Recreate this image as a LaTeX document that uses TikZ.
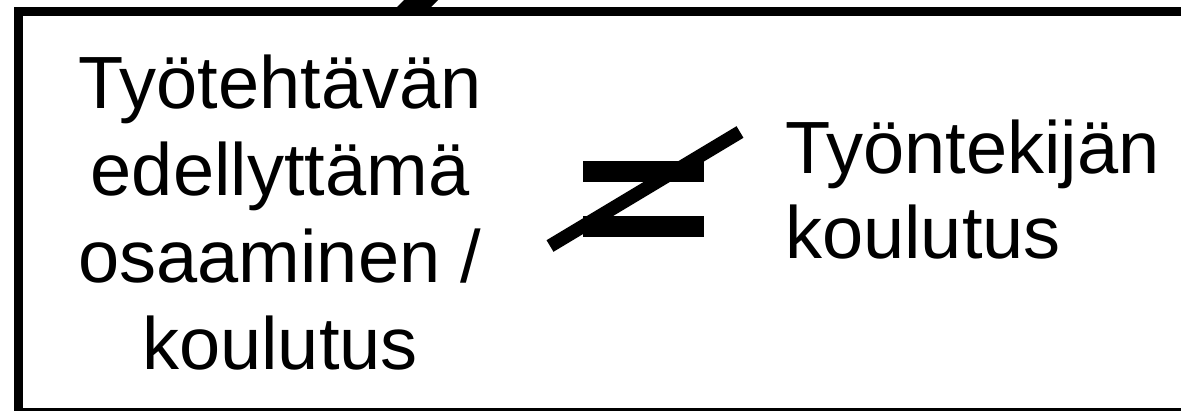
\documentclass[tikz,border=0pt]{standalone}
\usepackage{fontspec}
\setmainfont{Liberation Sans}
\begin{document}
\begin{tikzpicture}[x=1pt,y=-1pt,
  txt/.style={inner sep=0pt,anchor=base,font=\fontsize{74}{85}\selectfont},
  txtl/.style={txt,anchor=base west},
  boxline/.style={draw=black,line width=8.5pt,line join=miter},
  bar/.style={fill=black,draw=none}]
\useasboundingbox (0,0) rectangle (1181,410);
\clip (0,0) rectangle (1181,410);
\fill[white] (0,0) rectangle (1181,410);
% frame (right side lies outside the picture, bottom side mostly cut off)
\draw[boxline] (1190,412) -- (18.25,412) -- (18.25,11.5) -- (1190,11.5);
% fragment of a slash above the frame
\fill[black] (395,9) -- (429,9) -- (441,-3) -- (407,-3) -- cycle;
% left text
\node[txt] (l1) at (280,108) {Työtehtävän};
\node[txt] (l2) at (280,195) {edellyttämä};
\node[txt] (l3) at (280,282) {osaaminen /};
\node[txt] (l4) at (280,369) {koulutus};
% not-equal sign
\fill[bar] (583,161) rectangle (704,182);
\fill[bar] (583,216) rectangle (704,237);
\draw[line width=13.5pt] (550,246) -- (740,132);
% right text
\node[txtl] (r1) at (785,173) {Työntekijän};
\node[txtl] (r2) at (785,258) {koulutus};
\end{tikzpicture}
\end{document}
